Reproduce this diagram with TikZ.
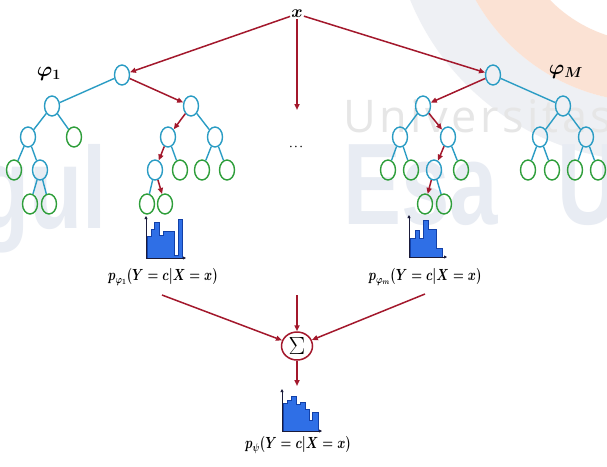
\documentclass[tikz,border=0pt]{standalone}
\usepackage{fontspec}
\usepackage{amsmath}
\usepackage{graphicx}
\usetikzlibrary{shapes.geometric,arrows.meta}
\definecolor{redc}{HTML}{A3182C}
\definecolor{cyanc}{HTML}{2A9CC4}
\definecolor{greenc}{HTML}{2E9E3A}
\definecolor{histfill}{HTML}{2F6FE6}
\definecolor{histline}{HTML}{1240A8}
\definecolor{axisc}{HTML}{1B1B3A}
\definecolor{wmorange}{HTML}{FBE2D4}
\definecolor{wmgray}{HTML}{EEF0F4}
\definecolor{wmtext}{HTML}{E6E6E6}
\definecolor{wmblue}{HTML}{E8ECF3}
\newfontfamily\wmthin{Open Sans}[LetterSpace=8]
\newfontfamily\wmsans{Liberation Sans}
\newcommand{\plabtext}[1]{\scalebox{0.86}[1.12]{$\boldsymbol{#1}$}}
\begin{document}
\begin{tikzpicture}[x=1pt,y=-1pt,
  innernode/.style={ellipse, draw=cyanc, line width=1.4pt, minimum width=15pt, minimum height=20pt, inner sep=0pt},
  leafnode/.style={ellipse, draw=greenc, line width=1.4pt, minimum width=15pt, minimum height=20pt, inner sep=0pt},
  tedge/.style={draw=cyanc, line width=1.4pt},
  redarr/.style={draw=redc, line width=1.5pt, -{Triangle[length=6pt,width=5pt]}},
  axisarr/.style={draw=axisc, line width=0.9pt, -{Triangle[length=3pt,width=3pt]}},
  histbars/.style={fill=histfill, draw=histline, line width=0.8pt},
  plab/.style={inner sep=1pt, font=\fontsize{14}{16}\selectfont},
  biglab/.style={inner sep=1pt, font=\fontsize{21}{21}\selectfont},
  sumnode/.style={ellipse, draw=redc, line width=1.5pt, minimum width=31pt, minimum height=28pt, inner sep=0pt, font=\fontsize{25}{25}\selectfont},
  wmbig/.style={anchor=base west, inner sep=0pt, text=wmblue, font=\wmsans\bfseries\fontsize{116}{116}\selectfont}
]
\useasboundingbox (0,0) rectangle (607,466);
\fill[white] (0,0) rectangle (607,466);
% watermark
\begin{scope}
\clip (0,0) rectangle (607,466);
\fill[wmgray, even odd rule] (650,-98) circle (259pt) (650,-98) circle (200pt);
\fill[wmorange, even odd rule] (650,-98) circle (200pt) (650,-98) circle (140pt);
\node[wmbig] (wmE) at (343,224) {\scalebox{0.75}[1]{Esa}};
\node[wmbig] (wmU) at (557,224) {\scalebox{0.75}[1]{Unggul}};
\node[wmbig, anchor=base east] (wmG) at (107,228) {\scalebox{0.75}[1]{gul}};
\node[anchor=base west, inner sep=0pt, text=wmtext, font=\wmthin\fontsize{45}{45}\selectfont] (wmT) at (343,132) {Universitas};
\end{scope}
% top
\node[inner sep=1pt, font=\fontsize{17}{17}\selectfont] (xl) at (297,14) {$\boldsymbol{x}$};
\node[biglab] (phi1) at (49,74) {$\boldsymbol{\varphi_1}$};
\node[biglab] (phiM) at (566,72) {$\boldsymbol{\varphi_M}$};
\node[inner sep=1pt, font=\fontsize{10}{10}\selectfont] (dots) at (297,147) {$\boldsymbol{\cdots}$};
\coordinate (xdown) at (297,110);
% left tree
\node[innernode] (r1) at (122,75) {};
\node[innernode] (a1) at (52,106) {};
\node[innernode] (b1) at (191,106) {};
\node[innernode] (a11) at (28,137) {};
\node[leafnode] (a12) at (74,137) {};
\node[innernode] (b11) at (168,137) {};
\node[innernode] (b12) at (215,137) {};
\node[leafnode] (a111) at (14,170) {};
\node[innernode] (a112) at (40,170) {};
\node[innernode] (b111) at (155,170) {};
\node[leafnode] (b112) at (180,170) {};
\node[leafnode] (b121) at (202,170) {};
\node[leafnode] (b122) at (227,170) {};
\node[leafnode] (a1121) at (30,204) {};
\node[leafnode] (a1122) at (49,204) {};
\node[leafnode] (b1111) at (147,204) {};
\node[leafnode] (b1112) at (165,204) {};
% right tree
\node[innernode] (r2) at (493,75) {};
\node[innernode] (c1) at (423,106) {};
\node[innernode] (d1) at (563,106) {};
\node[innernode] (c11) at (400,137) {};
\node[innernode] (c12) at (448,137) {};
\node[innernode] (d11) at (540,137) {};
\node[innernode] (d12) at (586,137) {};
\node[leafnode] (c111) at (388,170) {};
\node[leafnode] (c112) at (411,170) {};
\node[innernode] (c121) at (434,170) {};
\node[leafnode] (c122) at (461,170) {};
\node[leafnode] (d111) at (528,170) {};
\node[leafnode] (d112) at (552,170) {};
\node[leafnode] (d121) at (575,170) {};
\node[leafnode] (d122) at (598,170) {};
\node[leafnode] (c1211) at (425,204) {};
\node[leafnode] (c1212) at (444,204) {};
% cyan edges
\foreach \u/\v in {r1/a1, a1/a11, a1/a12, a11/a111, a11/a112, a112/a1121, a112/a1122,
  b1/b12, b11/b112, b12/b121, b12/b122, b111/b1111,
  r2/d1, c1/c11, c11/c111, c11/c112, c12/c122, c121/c1212,
  d1/d11, d1/d12, d11/d111, d11/d112, d12/d121, d12/d122}
  \draw[tedge] (\u) -- (\v);
% red decision paths
\foreach \u/\v in {xl/r1, xl/r2, xl/xdown, r1/b1, b1/b11, b11/b111, b111/b1112,
  r2/c1, c1/c12, c12/c121, c121/c1211}
  \draw[redarr] (\u) -- (\v);
% histograms
\filldraw[histbars] (147,258) -- (147,236) -- (151,236) -- (151,229) -- (154,229) -- (154,222) -- (159,222) -- (159,235) -- (163,235) -- (163,231) -- (174,231) -- (174,255) -- (178,255) -- (178,219) -- (182,219) -- (182,258) -- cycle;
\draw[axisarr] (146,258) -- (146,216);
\draw[axisarr] (146,258) -- (186,258);
\filldraw[histbars] (410,257) -- (410,238) -- (415,238) -- (415,230) -- (419,230) -- (419,238) -- (423,238) -- (423,220) -- (428,220) -- (428,229) -- (436,229) -- (436,248) -- (442,248) -- (442,257) -- cycle;
\draw[axisarr] (409,257) -- (409,215);
\draw[axisarr] (409,257) -- (447,257);
\filldraw[histbars] (283,431) -- (283,403) -- (287,403) -- (287,400) -- (291,400) -- (291,396) -- (296,396) -- (296,404) -- (300,404) -- (300,402) -- (305,402) -- (305,409) -- (309,409) -- (309,420) -- (312,420) -- (312,412) -- (318,412) -- (318,431) -- cycle;
\draw[axisarr] (282,431) -- (282,389);
\draw[axisarr] (282,431) -- (322,431);
% labels
\node[plab] (p1) at (163,277) {\plabtext{p_{\varphi_1}(Y = c|X = x)}};
\node[plab] (pm) at (425,277) {\plabtext{p_{\varphi_m}(Y = c|X = x)}};
\node[plab] (ppsi) at (298,445) {\plabtext{p_{\psi}(Y = c|X = x)}};
% aggregation
\node[sumnode] (sum) at (297,346) {$\Sigma$};
\coordinate (s1) at (162,295);
\coordinate (sm) at (425,294);
\coordinate (st) at (297,295);
\coordinate (se) at (297,386);
\draw[redarr] (s1) -- (sum);
\draw[redarr] (sm) -- (sum);
\draw[redarr] (st) -- (sum);
\draw[redarr] (sum) -- (se);
\end{tikzpicture}
\end{document}
